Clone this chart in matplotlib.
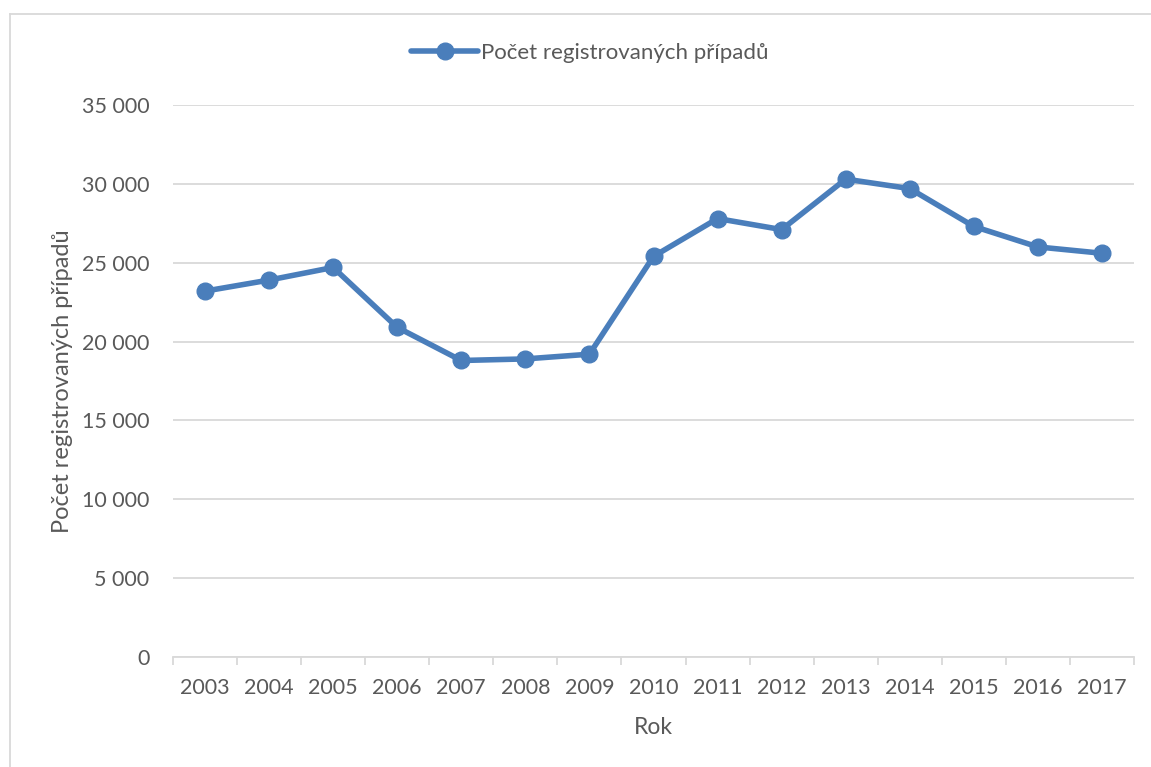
import matplotlib
matplotlib.use("Agg")
import matplotlib.pyplot as pl
from matplotlib.lines import Line2D
from matplotlib.ticker import FuncFormatter, MultipleLocator, FixedLocator

years = ["2003", "2004", "2005", "2006", "2007", "2008", "2009", "2010",
         "2011", "2012", "2013", "2014", "2015", "2016", "2017"]
cases = [23200, 23900, 24700, 20900, 18800, 18900, 19200, 25400,
         27800, 27100, 30300, 29700, 27300, 26000, 25600]

text_color = "#595959"
grid_color = "#d9d9d9"
line_color = "#4a7ebb"

pl.rcParams["font.family"] = ["Lato", "DejaVu Sans"]

fig = pl.figure(figsize=(11.51, 7.67), dpi=100)
ax = fig.add_axes([173 / 1151, 1 - 657 / 767, (1134 - 173) / 1151, (657 - 105) / 767])

x = list(range(len(years)))
ax.plot(x, cases, color=line_color, lw=4, marker="o", markersize=12,
        label="Počet registrovaných případů", solid_capstyle="round", zorder=3)

ax.set_xlim(-0.5, len(years) - 0.5)
ax.set_ylim(0, 35000)
ax.yaxis.set_major_locator(MultipleLocator(5000))
ax.yaxis.set_major_formatter(FuncFormatter(lambda v, p: f"{int(v):,}".replace(",", " ")))
ax.grid(axis="y", color=grid_color, lw=1.3)
ax.set_axisbelow(True)

ax.set_xticks(x)
ax.set_xticklabels(years)
ax.xaxis.set_minor_locator(FixedLocator([i - 0.5 for i in range(len(years) + 1)]))
ax.tick_params(axis="x", which="major", length=0, pad=15, labelsize=15.5, labelcolor=text_color)
ax.tick_params(axis="x", which="minor", length=6, width=1.3, color=grid_color)
ax.tick_params(axis="y", length=0, pad=17, labelsize=15.5, labelcolor=text_color)

for side in ["top", "right", "left"]:
    ax.spines[side].set_visible(False)
ax.spines["bottom"].set_color(grid_color)
ax.spines["bottom"].set_linewidth(1.3)

ax.set_xlabel("Rok", fontsize=16.5, color=text_color, labelpad=14)
ax.set_ylabel("Počet registrovaných případů", fontsize=17, color=text_color, labelpad=6)

fig.legend(loc="center", bbox_to_anchor=(590 / 1151, 1 - 53 / 767), frameon=False,
           fontsize=16, labelcolor=text_color, handlelength=3.0, handletextpad=0.15)

# chart area border (top and left edges visible in the crop)
fig.add_artist(Line2D([10 / 1151, 10 / 1151], [0, 1 - 14 / 767], transform=fig.transFigure,
                      color=grid_color, lw=1.3))
fig.add_artist(Line2D([10 / 1151, 1], [1 - 14 / 767, 1 - 14 / 767], transform=fig.transFigure,
                      color=grid_color, lw=1.3))

fig.savefig("out.png", dpi=100)
